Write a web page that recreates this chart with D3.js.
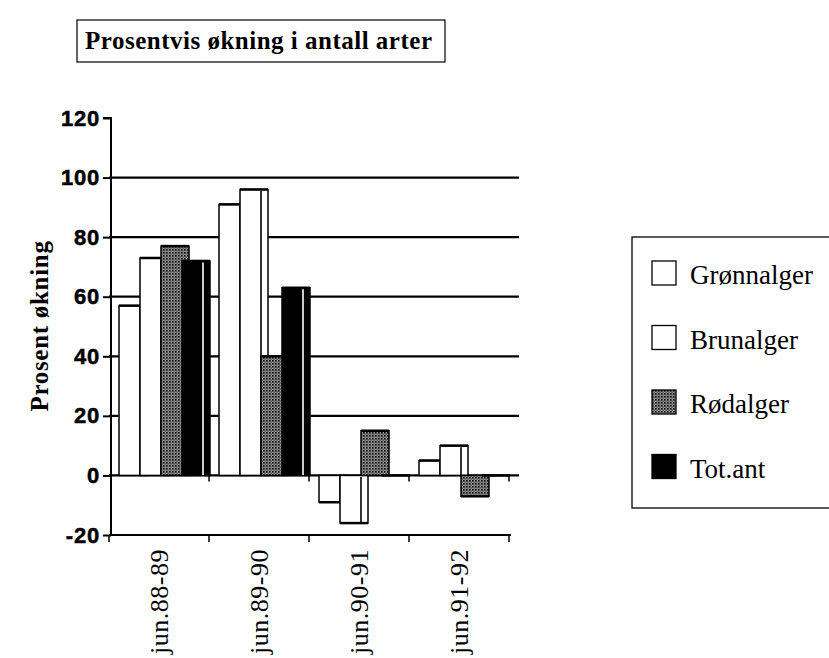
<!DOCTYPE html>
<html>
<head>
<meta charset="utf-8">
<script src="https://cdn.jsdelivr.net/npm/d3@7"></script>
<style>
  body { margin: 0; background: #fff; }
  svg { display: block; }
</style>
</head>
<body>
<svg id="chart" width="829" height="658"></svg>
<script>
// data
const categories = ["jun.88-89", "jun.89-90", "jun.90-91", "jun.91-92"];
const seriesNames = ["Grønnalger", "Brunalger", "Rødalger", "Tot.ant"];
const gronnalger = [57, 91, -9, 5];
const brunalger = [73, 96, -16, 10];
const rodalger = [77, 40, 15, -7];
const totant = [72, 63, 0, 0];
const yTicks = [-20, 0, 20, 40, 60, 80, 100, 120];

const seriesValues = [gronnalger, brunalger, rodalger, totant];

const svg = d3.select("#chart");
const serif = "Liberation Serif, Times New Roman, serif";

// dotted fill for Rødalger
const defs = svg.append("defs");
const pat = defs.append("pattern")
    .attr("id", "dots")
    .attr("patternUnits", "userSpaceOnUse")
    .attr("width", 3).attr("height", 3);
pat.append("rect").attr("width", 3).attr("height", 3).attr("fill", "#9a9a9a");
pat.append("rect").attr("x", 0).attr("y", 0).attr("width", 1.6).attr("height", 1.6).attr("fill", "#000");
pat.append("rect").attr("x", 1.5).attr("y", 1.5).attr("width", 1.2).attr("height", 1.2).attr("fill", "#333");

const fills = ["#fff", "#fff", "url(#dots)", "#000"];
const innerLine = ["#000", "#000", "none", "#fff"];

const y = d3.scaleLinear().domain([-20, 120]).range([535, 118]);
const x0 = d3.scaleBand().domain(categories).range([109, 509]).padding(0);
const x1 = d3.scaleBand().domain(seriesNames).range([10, 94]).padding(0);
const depth = 7;
const plotRight = 519;

// title box
svg.append("rect")
    .attr("x", 77).attr("y", 20).attr("width", 368).attr("height", 42)
    .attr("fill", "none").attr("stroke", "#000").attr("stroke-width", 1.2);
svg.append("text")
    .attr("x", 85).attr("y", 49)
    .attr("font-family", serif)
    .attr("font-weight", "bold").attr("font-size", 25)
    .attr("letter-spacing", 0.5)
    .text("Prosentvis økning i antall arter");

// gridlines
svg.append("g")
    .selectAll("line")
    .data(yTicks.filter(d => d > -20 && d < 120))
    .enter().append("line")
    .attr("x1", x0.range()[0]).attr("x2", plotRight)
    .attr("y1", d => y(d)).attr("y2", d => y(d))
    .attr("stroke", "#000").attr("stroke-width", 2.2);

// bottom line with ticks
svg.append("line")
    .attr("x1", x0.range()[0]).attr("x2", x0.range()[1] + 2)
    .attr("y1", y(-20)).attr("y2", y(-20))
    .attr("stroke", "#000").attr("stroke-width", 2);
const bounds = categories.map(c => x0(c)).concat([x0.range()[1]]);
svg.append("g")
    .selectAll("line")
    .data(bounds)
    .enter().append("line")
    .attr("x1", d => d).attr("x2", d => d)
    .attr("y1", y(-20)).attr("y2", y(-20) + 7)
    .attr("stroke", "#000").attr("stroke-width", 1.5);
// small ticks on the zero line
svg.append("g")
    .selectAll("line")
    .data(bounds.slice(1))
    .enter().append("line")
    .attr("x1", d => d).attr("x2", d => d)
    .attr("y1", y(0)).attr("y2", y(0) + 6)
    .attr("stroke", "#000").attr("stroke-width", 1.5);

// bars
const groups = svg.append("g")
    .selectAll("g")
    .data(categories)
    .enter().append("g")
    .attr("transform", d => `translate(${x0(d)},0)`);

groups.each(function (cat, ci) {
    const g = d3.select(this);
    seriesNames.forEach(function (s, si) {
        const v = seriesValues[si][ci];
        const bx = x1(s);
        const bw = x1.bandwidth();
        const top = y(Math.max(v, 0));
        const bot = y(Math.min(v, 0));
        const h = Math.max(bot - top, 0);
        g.append("rect")
            .attr("x", bx).attr("y", top)
            .attr("width", bw + depth).attr("height", h)
            .attr("fill", fills[si])
            .attr("stroke", "#000")
            .attr("stroke-width", 1.5);
        // thick edge at the free end of the bar
        const edgeY = v >= 0 ? top : bot;
        g.append("line")
            .attr("x1", bx).attr("x2", bx + bw + depth)
            .attr("y1", edgeY).attr("y2", edgeY)
            .attr("stroke", "#000").attr("stroke-width", 2.5);
        if (innerLine[si] !== "none" && h > 2) {
            g.append("line")
                .attr("x1", bx + bw).attr("x2", bx + bw)
                .attr("y1", top + 1.5).attr("y2", bot - 0.5)
                .attr("stroke", innerLine[si]).attr("stroke-width", 1.6);
        }
    });
});

// y axis
const yAxis = d3.axisLeft(y).tickValues(yTicks).tickSize(8).tickPadding(3)
    .tickFormat(d => String(d));
const yg = svg.append("g")
    .attr("transform", `translate(${x0.range()[0] + 2},0)`)
    .call(yAxis);
yg.select(".domain").attr("stroke-width", 2).attr("d", `M-8,${y(120)}H0V${y(-20)}`);
yg.selectAll(".tick line").attr("stroke-width", 2);
yg.selectAll(".tick text")
    .attr("font-family", "Liberation Sans, Arial, sans-serif")
    .attr("font-weight", "bold").attr("font-size", 22)
    .attr("letter-spacing", 0.8)
    .attr("stroke", "#000").attr("stroke-width", 0.5)
    .attr("fill", "#000");

// y axis title
svg.append("text")
    .attr("transform", "translate(48,326) rotate(-90)")
    .attr("text-anchor", "middle")
    .attr("font-family", serif)
    .attr("font-weight", "bold").attr("font-size", 25)
    .attr("letter-spacing", 0.7)
    .text("Prosent økning");

// category labels, rotated
svg.append("g")
    .selectAll("text")
    .data(categories)
    .enter().append("text")
    .attr("transform", d => `translate(${x0(d) + x0.bandwidth() / 2 + 9},549) rotate(-90)`)
    .attr("text-anchor", "end")
    .attr("font-family", serif)
    .attr("font-size", 26)
    .attr("letter-spacing", 0.5)
    .text(d => d);

// legend
svg.append("rect")
    .attr("x", 632).attr("y", 237).attr("width", 220).attr("height", 271)
    .attr("fill", "none").attr("stroke", "#000").attr("stroke-width", 1.3);
const legend = svg.append("g")
    .selectAll("g")
    .data(seriesNames)
    .enter().append("g")
    .attr("transform", (d, i) => `translate(652,${261 + i * 64.5})`);
legend.append("rect")
    .attr("width", 24).attr("height", 24)
    .attr("fill", (d, i) => fills[i])
    .attr("stroke", "#000").attr("stroke-width", 1.3);
legend.append("text")
    .attr("x", 38).attr("y", 23)
    .attr("font-family", serif)
    .attr("font-size", 27)
    .text(d => d);
</script>
</body>
</html>
